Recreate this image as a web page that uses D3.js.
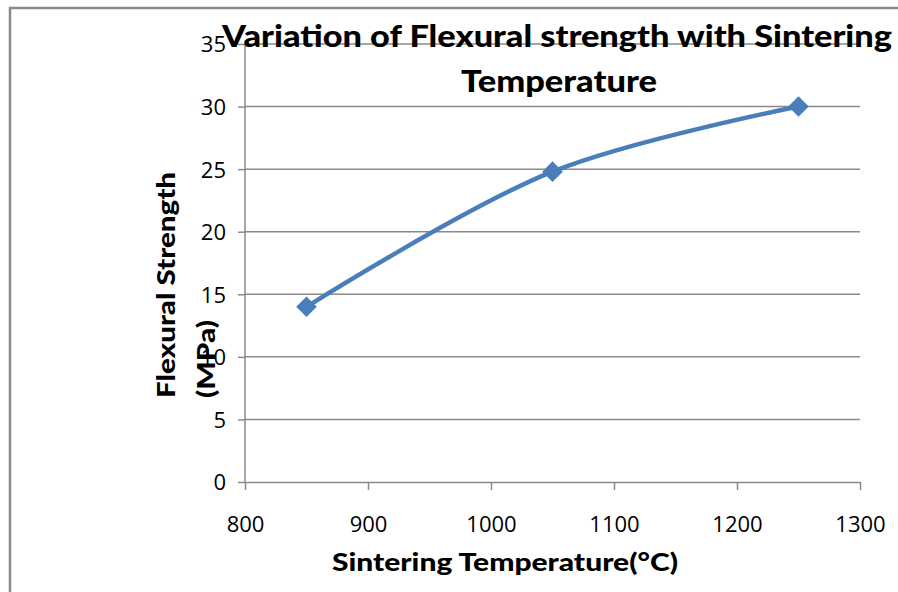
<!DOCTYPE html>
<head>
    <meta charset="utf-8">
</head>

<style type="text/css">
    body { margin: 0; background: #fff; }
    svg { display: block; font-family: Lato, "Open Sans", sans-serif; }
    .grid line { stroke: #8a8a8a; stroke-width: 1.5; }
    .axis path, .axis line { stroke: #8a8a8a; stroke-width: 1.5; }
    .axis text { font-size: 22px; fill: #000; font-family: "Open Sans", Lato, sans-serif; }
    .flex-line { stroke: #4a7ebb; stroke-width: 4.5; fill: none; }
    .g-dot { fill: #4a7ebb; }
    .t-bold { font-weight: 900; fill: #000; }
</style>

<body></body>

<script src="https://d3js.org/d3.v7.min.js"></script>

<script>

// values
var temps = [850, 1050, 1250];
var strength = [14, 24.8, 30];
var xTicks = [800, 900, 1000, 1100, 1200, 1300];
var yTicks = [0, 5, 10, 15, 20, 25, 30, 35];

var data = temps.map(function(t, i) { return {temp: t, val: strength[i]}; });

var W = 898, H = 592;
var plot = {left: 245, right: 860, top: 44, bottom: 482};

var svg = d3.select("body").append("svg")
    .attr("width", W)
    .attr("height", H);

// outer frame of the chart
svg.append("rect")
    .attr("x", 10).attr("y", 8)
    .attr("width", 900).attr("height", 600)
    .attr("fill", "none")
    .attr("stroke", "#8a8a8a")
    .attr("stroke-width", 2.5);

var xscale = d3.scaleLinear().domain([800, 1300]).range([plot.left, plot.right]);
var yscale = d3.scaleLinear().domain([0, 35]).range([plot.bottom, plot.top]);

// horizontal gridlines
svg.append("g").attr("class", "grid")
    .selectAll("line")
    .data(yTicks.filter(function(d) { return d > 0; }))
    .enter().append("line")
    .attr("x1", plot.left).attr("x2", plot.right)
    .attr("y1", function(d) { return yscale(d); })
    .attr("y2", function(d) { return yscale(d); });

var xAxis = d3.axisBottom(xscale).tickValues(xTicks).tickFormat(d3.format("d"))
    .tickSize(8).tickSizeOuter(0).tickPadding(26);
var yAxis = d3.axisLeft(yscale).tickValues(yTicks).tickFormat(d3.format("d"))
    .tickSize(7).tickSizeOuter(0).tickPadding(12);

var gx = svg.append("g").attr("class", "axis")
    .attr("transform", "translate(0," + plot.bottom + ")")
    .call(xAxis);

var gy = svg.append("g").attr("class", "axis")
    .attr("transform", "translate(" + plot.left + ",0)")
    .call(yAxis);
gy.select("path.domain").attr("d", "M0," + plot.bottom + "V" + plot.top);
gy.selectAll(".tick text").attr("dy", "0.36em");

var line = d3.line()
    .curve(d3.curveCatmullRom.alpha(0.5))
    .x(function(d) { return xscale(d.temp); })
    .y(function(d) { return yscale(d.val); });

svg.append("path")
    .attr("class", "flex-line")
    .attr("d", line(data));

svg.append("g").selectAll(".g-dot")
    .data(data)
    .enter().append("path")
    .attr("class", "g-dot")
    .attr("d", d3.symbol().type(d3.symbolDiamond2).size(270))
    .attr("transform", function(d) { return "translate(" + xscale(d.temp) + "," + yscale(d.val) + ")"; });

// titles
svg.append("text").attr("class", "t-bold")
    .attr("x", 557).attr("y", 47)
    .attr("text-anchor", "middle")
    .style("font-size", "30px")
    .attr("textLength", 670).attr("lengthAdjust", "spacingAndGlyphs")
    .text("Variation of Flexural strength with Sintering");

svg.append("text").attr("class", "t-bold")
    .attr("x", 559).attr("y", 92)
    .attr("text-anchor", "middle")
    .style("font-size", "30px")
    .attr("textLength", 196).attr("lengthAdjust", "spacingAndGlyphs")
    .text("Temperature");

svg.append("text").attr("class", "t-bold")
    .attr("x", 505).attr("y", 571)
    .attr("text-anchor", "middle")
    .style("font-size", "25px")
    .attr("textLength", 346).attr("lengthAdjust", "spacingAndGlyphs")
    .text("Sintering Temperature(°C)");

svg.append("text").attr("class", "t-bold")
    .attr("transform", "translate(175,398) rotate(-90)")
    .style("font-size", "25px")
    .attr("textLength", 226).attr("lengthAdjust", "spacingAndGlyphs")
    .text("Flexural Strength");

svg.append("text").attr("class", "t-bold")
    .attr("transform", "translate(215,398) rotate(-90)")
    .style("font-size", "25px")
    .attr("textLength", 78).attr("lengthAdjust", "spacingAndGlyphs")
    .text("(MPa)");

</script>
